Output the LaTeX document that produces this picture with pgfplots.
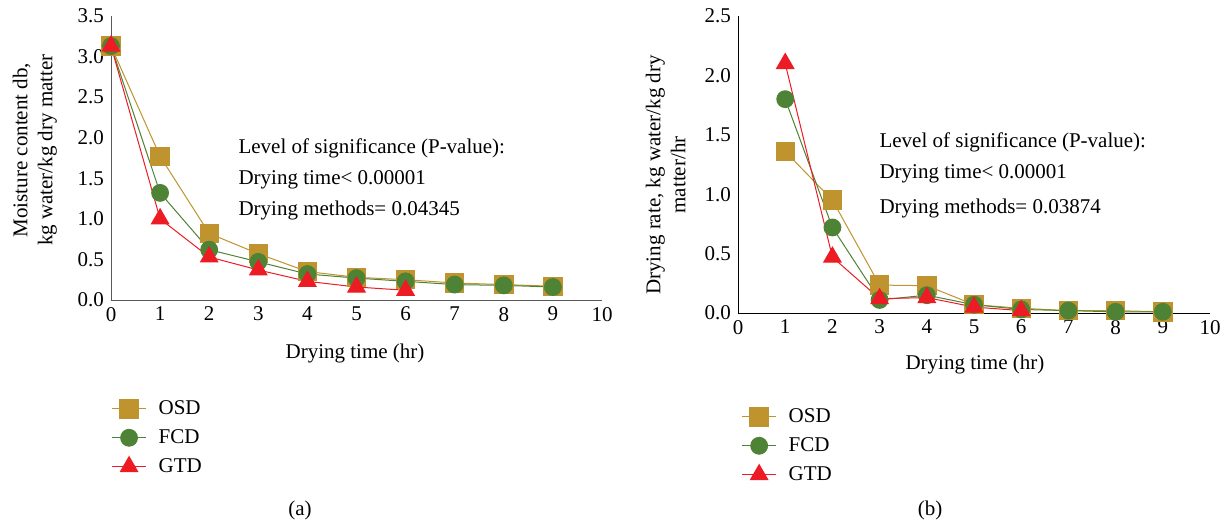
\documentclass[border=0pt]{standalone}
\usepackage{fontspec}
\setmainfont{Liberation Serif}
\usepackage{pgfplots}
\pgfplotsset{compat=1.18}
\definecolor{osd}{RGB}{191,148,46}
\definecolor{fcd}{RGB}{78,130,52}
\definecolor{gtd}{RGB}{237,28,36}
\newcommand{\fs}{\fontsize{10.5}{12.5}\selectfont}
\tikzset{ann/.style={anchor=west, inner sep=0pt, font=\fs}}
\pgfplotsset{
  myaxis/.style={
    scale only axis,
    xmin=0, xmax=10, ymin=0,
    axis lines=left,
    axis line style={-},
    xtick={0,1,...,10},
    major tick length=0pt,
    tick label style={font=\fs},
    label style={font=\fs},
    /pgf/number format/assume math mode=true,
    yticklabel style={/pgf/number format/.cd,fixed,fixed zerofill,precision=1},
    clip=false,
    legend cell align=left,
    legend style={draw=none, fill=none, font=\fs, row sep=2pt,
      /tikz/every odd column/.append style={column sep=4pt}},
  },
  osdst/.style={color=osd, line width=0.5pt, mark=square*, mark size=4.6pt, mark options={fill=osd, draw=osd}},
  fcdst/.style={color=fcd, line width=0.5pt, mark=*, mark size=4.2pt, mark options={fill=fcd, draw=fcd}},
  gtdst/.style={color=gtd, line width=0.5pt, mark=triangle*, mark size=5pt, mark options={fill=gtd, draw=gtd}},
}
\begin{document}
\begin{tikzpicture}
\path (0,0) rectangle (614.5pt,261.5pt);
\begin{axis}[myaxis,
  at={(55.5pt,111.5pt)}, anchor=south west,
  width=245.5pt, height=142pt,
  ymax=3.5, ytick={0,0.5,...,3.5},
  axis line style={black!65},
  xlabel={Drying time (hr)},
  xlabel style={at={(axis description cs:0.497,-0.187)}, anchor=center},
  ylabel={Moisture content db,\\kg water/kg dry matter},
  ylabel style={align=center, at={(axis description cs:-0.155,0.528)}, anchor=center},
  legend style={at={(axis description cs:-0.012,-0.324)}, anchor=north west},
]
\addplot[osdst] coordinates {(0,3.13) (1,1.77) (2,0.82) (3,0.57) (4,0.35) (5,0.28) (6,0.25) (7,0.21) (8,0.19) (9,0.17)};
\addplot[fcdst] coordinates {(0,3.13) (1,1.32) (2,0.62) (3,0.47) (4,0.32) (5,0.27) (6,0.23) (7,0.19) (8,0.18) (9,0.16)};
\addplot[gtdst] coordinates {(0,3.13) (1,1.00) (2,0.53) (3,0.37) (4,0.23) (5,0.16) (6,0.12)};
\legend{OSD,FCD,GTD}
\node[ann] at (axis cs:2.59,1.87) {Level of significance (P-value):};
\node[ann] at (axis cs:2.59,1.48) {Drying time< 0.00001};
\node[ann] at (axis cs:2.59,1.10) {Drying methods= 0.04345};
\end{axis}
\begin{axis}[myaxis,
  at={(369pt,105pt)}, anchor=south west,
  width=236pt, height=148.5pt,
  ymax=2.5, ytick={0,0.5,...,2.5},
  axis line style={black},
  xlabel={Drying time (hr)},
  xlabel style={at={(axis description cs:0.502,-0.175)}, anchor=center},
  ylabel={Drying rate, kg water/kg dry\\matter/hr},
  ylabel style={align=center, at={(axis description cs:-0.153,0.465)}, anchor=center},
  legend style={at={(axis description cs:-0.006,-0.293)}, anchor=north west},
]
\addplot[osdst] coordinates {(1,1.36) (2,0.95) (3,0.235) (4,0.23) (5,0.07) (6,0.04) (7,0.02) (8,0.02) (9,0.01)};
\addplot[fcdst] coordinates {(1,1.80) (2,0.72) (3,0.11) (4,0.15) (5,0.07) (6,0.03) (7,0.02) (8,0.01) (9,0.01)};
\addplot[gtdst] coordinates {(1,2.10) (2,0.47) (3,0.12) (4,0.13) (5,0.05) (6,0.02)};
\legend{OSD,FCD,GTD}
\node[ann] at (axis cs:2.99,1.44) {Level of significance (P-value):};
\node[ann] at (axis cs:2.99,1.175) {Drying time< 0.00001};
\node[ann] at (axis cs:2.99,0.88) {Drying methods= 0.03874};
\end{axis}
\node[font=\fs] at (150pt,6.5pt) {(a)};
\node[font=\fs] at (465pt,6.5pt) {(b)};
\end{tikzpicture}
\end{document}
